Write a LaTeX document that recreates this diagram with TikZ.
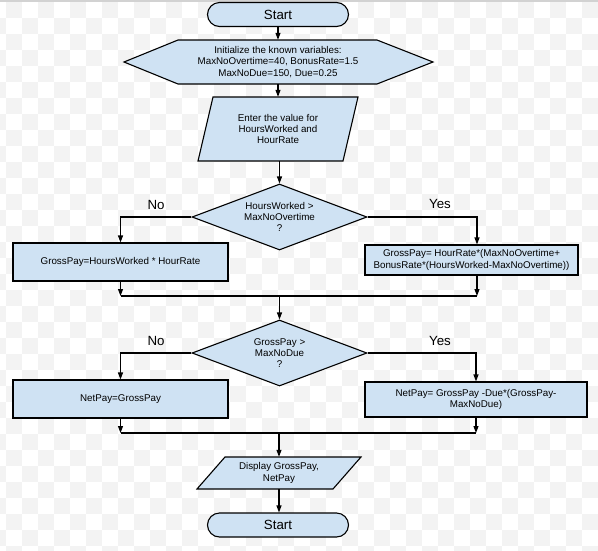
\documentclass[tikz,border=0pt]{standalone}
\usepackage{fontspec}
\setmainfont{Liberation Sans}
\usetikzlibrary{shapes.geometric,arrows.meta}
\definecolor{boxfill}{HTML}{CFE2F3}
\definecolor{chk}{RGB}{243,243,243}
\begin{document}
\begin{tikzpicture}[x=1pt,y=-1pt,
  shp/.style={draw=black,line width=1.1pt,fill=boxfill},
  txt/.style={font=\fontsize{9.8}{11.3}\selectfont,align=center,inner sep=0pt},
  term/.style={shp,rounded corners=12pt,minimum width=141pt,minimum height=24pt,inner sep=0pt,font=\fontsize{13.3}{15}\selectfont},
  proc/.style={shp,txt,rectangle},
  dec/.style={shp,txt,diamond,aspect=2.65,minimum width=175pt,minimum height=66pt},
  conn/.style={line width=1.1pt,-{Triangle[length=7pt,width=5pt]}},
  plain/.style={line width=1.1pt},
  lbl/.style={font=\fontsize{13.3}{15}\selectfont,inner sep=0pt}]
\useasboundingbox (0,0) rectangle (598,550);
% checkerboard background
\begin{scope}
\clip (0,0) rectangle (598,550);
\foreach \c in {0,...,38} {
  \foreach \r in {0,...,35} {
    \pgfmathtruncatemacro\kk{mod(\c+\r,2)}
    \ifnum\kk=0 \fill[chk] (-10+16*\c,-14+16*\r) rectangle ++(16,16); \fi
  }
}
\fill[gray!35] (0,0) rectangle (598,2);
\end{scope}

% shapes drawn directly
\path[shp] (124,62) -- (178,40) -- (377,40) -- (433,62) -- (377,84) -- (178,84) -- cycle;
\path[shp] (213,97) -- (358,97) -- (343,161) -- (198,161) -- cycle;
\path[shp] (225,457) -- (361,457) -- (333,489) -- (197,489) -- cycle;

% nodes
\node[term] (start) at (278,14.5) {Start};
\node[txt,minimum width=199pt,minimum height=44pt] (init) at (278,62)
  {Initialize the known variables:\\MaxNoOvertime=40, BonusRate=1.5\\MaxNoDue=150, Due=0.25};
\node[txt,minimum width=130pt,minimum height=64pt] (enter) at (278,129)
  {Enter the value for\\HoursWorked and\\HourRate};
\node[dec] (d1) at (279.5,217) {HoursWorked >\\MaxNoOvertime\\?};
\node[proc,minimum width=215pt,minimum height=38pt] (b1) at (120.5,262) {GrossPay=HoursWorked * HourRate};
\node[proc,minimum width=213pt,minimum height=30pt] (b2) at (471.5,260)
  {GrossPay= HourRate*(MaxNoOvertime+\\BonusRate*(HoursWorked-MaxNoOvertime))};
\node[dec] (d2) at (279.5,353) {GrossPay >\\MaxNoDue\\?};
\node[proc,minimum width=215pt,minimum height=38pt] (b3) at (120.5,399) {NetPay=GrossPay};
\node[proc,minimum width=222pt,minimum height=35pt] (b4) at (476,399.5)
  {NetPay= GrossPay -Due*(GrossPay-\\MaxNoDue)};
\node[txt,minimum width=136pt,minimum height=32pt] (disp) at (279,473) {Display GrossPay,\\NetPay};
\node[term] (end) at (278,525) {Start};

\node[lbl] (no1) at (156,205) {No};
\node[lbl] (yes1) at (440,204) {Yes};
\node[lbl] (no2) at (156,341) {No};
\node[lbl] (yes2) at (440,341) {Yes};

% connectors
\coordinate (b2top) at ([xshift=5.5pt]b2.north);
\coordinate (m1) at (279.5,296);
\coordinate (m2) at (279,433);

\draw[conn] (start.south) -- (init.north);
\draw[conn] (init.south) -- (enter.north);
\draw[conn] (d1.north |- enter.south) -- (d1.north);
\draw[conn] (d1.west) -| (b1.north);
\draw[conn] (d1.east) -| (b2top);
\draw[conn] (b1.south) -- (b1.south |- m1);
\draw[conn] (b2top |- b2.south) -- (b2top |- m1);
\draw[plain] (b1.south |- m1) -- (b2top |- m1);
\draw[conn] (m1) -- (d2.north);
\draw[conn] (d2.west) -| (b3.north);
\draw[conn] (d2.east) -| (b4.north);
\draw[conn] (b3.south) -- (b3.south |- m2);
\draw[conn] (b4.south) -- (b4.south |- m2);
\draw[plain] (b3.south |- m2) -- (b4.south |- m2);
\draw[conn] (m2) -- (disp.north);
\draw[conn] (disp.south) -- (disp.south |- end.north);
\end{tikzpicture}
\end{document}
